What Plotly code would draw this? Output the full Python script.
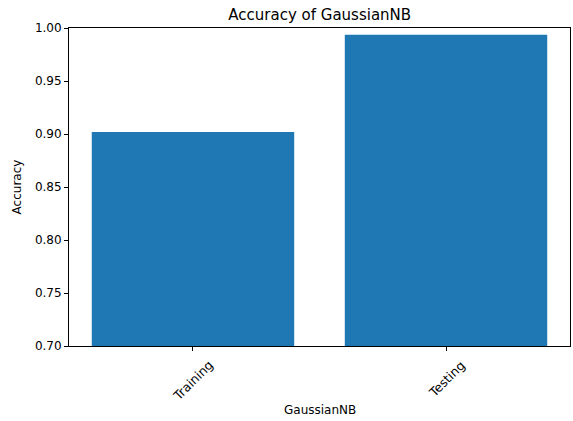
import plotly.graph_objects as go

categories = ["Training", "Testing"]
accuracy = [0.902, 0.9937]
yticks = [0.70, 0.75, 0.80, 0.85, 0.90, 0.95, 1.00]

fig = go.Figure(go.Bar(x=categories, y=accuracy, marker_color="#1f77b4", width=0.8,
                       marker_line_width=0))

font = dict(family="DejaVu Sans", size=12, color="black")
fig.update_layout(
    width=573, height=421,
    margin=dict(l=69, r=3, t=28, b=75),
    paper_bgcolor="white", plot_bgcolor="white",
    font=font,
    showlegend=False,
    title=dict(text="Accuracy of GaussianNB", x=0.558, xanchor="center",
               y=1 - 15/421, yanchor="middle", font=dict(size=15, family="DejaVu Sans")),
)
for c in categories:
    fig.add_annotation(x=c, xref="x", y=0, yref="paper", text=c, textangle=-45,
                       showarrow=False, xanchor="center", yanchor="top", yshift=-9,
                       font=dict(size=12.5, family="DejaVu Sans", color="black"))
fig.update_xaxes(
    range=[-0.49, 1.49], showticklabels=False,
    showline=True, linecolor="black", linewidth=1, mirror=True,
    ticks="outside", ticklen=4, tickcolor="black", showgrid=False, zeroline=False,
)
fig.add_annotation(x=0.5, xref="paper", y=0, yref="paper", text="GaussianNB",
                   showarrow=False, xanchor="center", yanchor="middle", yshift=-64,
                   font=dict(size=12, family="DejaVu Sans", color="black"))
fig.update_yaxes(
    range=[0.70, 1.00], tickvals=yticks, tickformat=".2f",
    showline=True, linecolor="black", linewidth=1, mirror=True,
    ticks="outside", ticklen=4, tickcolor="black", showgrid=False, zeroline=False,
    title=dict(text="Accuracy", standoff=10, font=dict(size=12)),
)
fig.write_html("out.html", config={"displayModeBar": False})
with open("out.html", encoding="utf-8") as f:
    html = f.read()
html = html.replace("<body>", '<body style="margin:0;padding:0;overflow:hidden">', 1)
with open("out.html", "w", encoding="utf-8") as f:
    f.write(html)
